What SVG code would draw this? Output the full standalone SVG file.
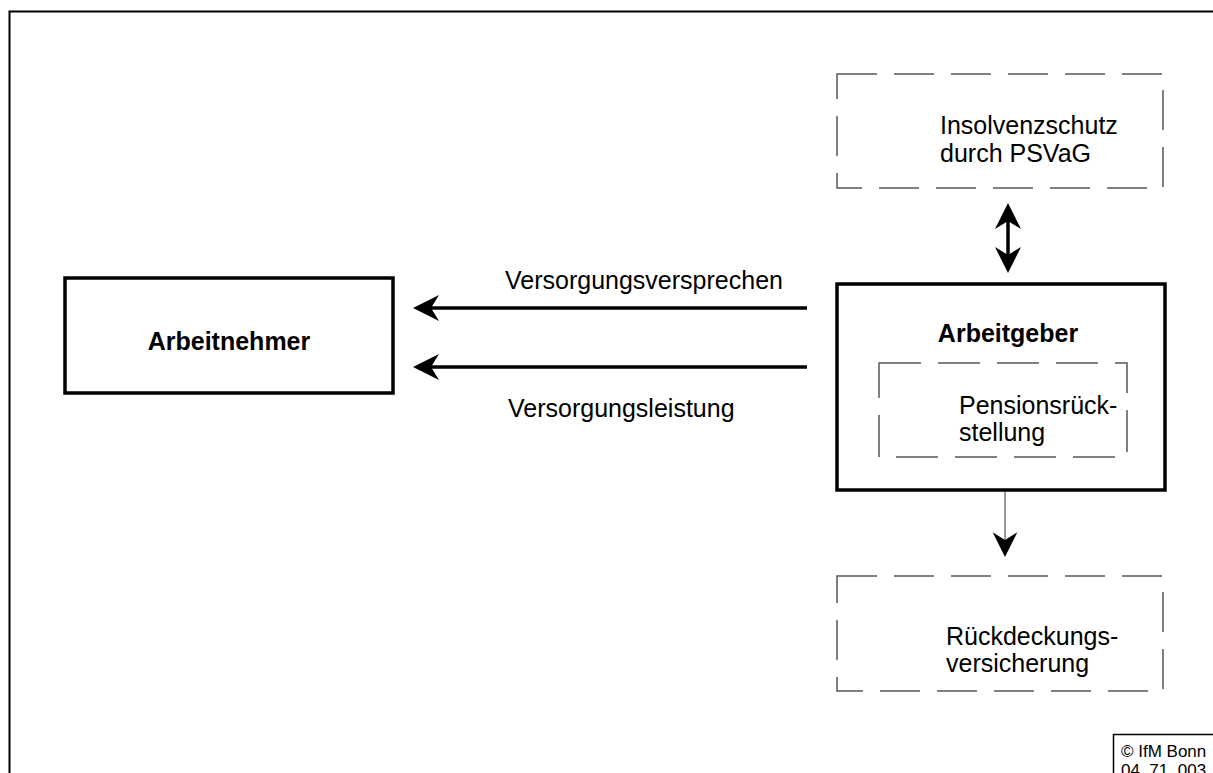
<svg xmlns="http://www.w3.org/2000/svg" width="1213" height="773" viewBox="0 0 1213 773">
<style>
text{font-family:"Liberation Sans",Arial,sans-serif;font-size:25px;fill:#000}
.b{font-weight:bold}
.solid{fill:#fff;stroke:#000;stroke-width:3.5}
.dash{fill:none;stroke:#555;stroke-width:1.5;stroke-dasharray:40 17}
.thick{stroke:#000;stroke-width:3.5;fill:none}
.thin{stroke:#555;stroke-width:1.2;fill:none}
.head{fill:#000}
</style>
<defs>
<path id="hd" d="M0,0 L26,-13 L18,0 L26,13 Z"/>
</defs>
<rect width="1213" height="773" fill="#fff"/>
<g id="frame">
<path d="M9.5,773 V11.5 H1213" fill="none" stroke="#000" stroke-width="2"/>
</g>
<g id="copyright">
<path d="M1113.5,773 V734.5 H1213" fill="none" stroke="#000" stroke-width="1.5"/>
<text x="1121" y="757" style="font-size:17px">© IfM Bonn</text>
<text x="1121" y="776" style="font-size:17px">04_71_003</text>
</g>
<g id="connectors">
<line class="thick" x1="807" y1="308" x2="425" y2="308"/>
<use href="#hd" class="head" transform="translate(413,308)"/>
<line class="thick" x1="807" y1="367" x2="425" y2="367"/>
<use href="#hd" class="head" transform="translate(413,367)"/>
<line class="thick" x1="1008" y1="215" x2="1008" y2="262"/>
<use href="#hd" class="head" transform="translate(1008,203) rotate(90)"/>
<use href="#hd" class="head" transform="translate(1008,273) rotate(-90)"/>
<line class="thin" x1="1005" y1="457" x2="1005" y2="545"/>
<use href="#hd" class="head" transform="translate(1005,557) rotate(-90) scale(0.95)"/>
</g>
<g id="psvag">
<rect class="dash" x="837" y="74" width="326" height="114"/>
<text x="940" y="134">Insolvenzschutz</text>
<text x="940" y="162">durch PSVaG</text>
</g>
<g id="arbeitnehmer">
<rect class="solid" x="65" y="278" width="328" height="115"/>
<text class="b" x="229" y="350" text-anchor="middle">Arbeitnehmer</text>
</g>
<g id="arbeitgeber">
<rect class="solid" x="837" y="284" width="328" height="206" fill="none"/>
<text class="b" x="1008" y="342" text-anchor="middle">Arbeitgeber</text>
</g>
<g id="pensionsrueckstellung">
<rect class="dash" x="879" y="363" width="248" height="94" style="stroke-dasharray:42 17"/>
<text x="959" y="414">Pensionsrück-</text>
<text x="959" y="441">stellung</text>
</g>
<g id="rueckdeckung">
<rect class="dash" x="837" y="576" width="326" height="115"/>
<text x="946" y="645">Rückdeckungs-</text>
<text x="946" y="672">versicherung</text>
</g>
<g id="labels">
<text x="505" y="289">Versorgungsversprechen</text>
<text x="508" y="417">Versorgungsleistung</text>
</g>
</svg>
